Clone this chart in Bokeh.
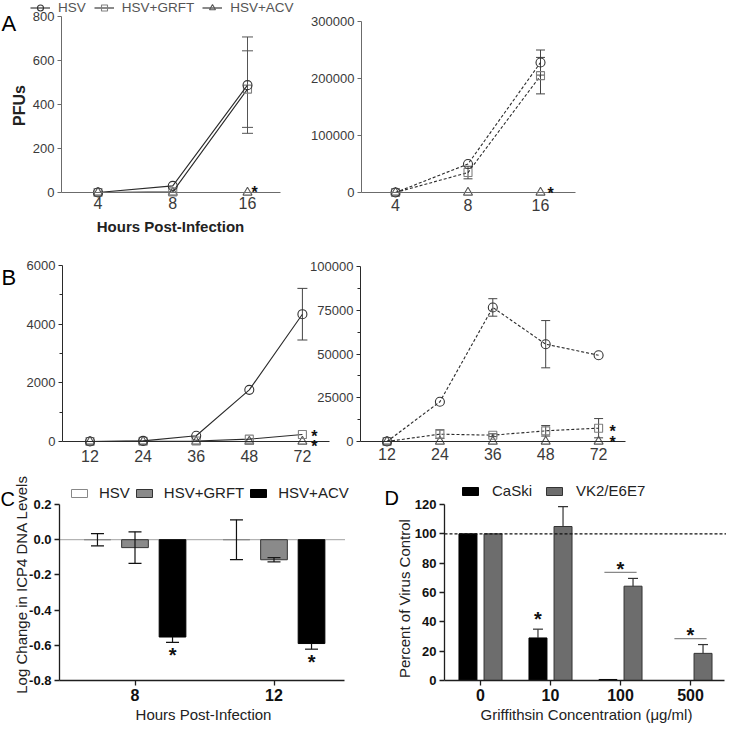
import math
from bokeh.plotting import figure
from bokeh.models import (Range1d, LinearAxis, FixedTicker, NumeralTickFormatter,
                          Label, Legend, LegendItem)
from bokeh.layouts import column, row
from bokeh.embed import file_html
from bokeh.resources import INLINE

FONT = "Liberation Sans"

# ---------------- Panel A : PFUs vs hours post-infection ----------------
a_hours = ["4", "8", "16"]
a_left_ticks = [0, 200, 400, 600, 800]
a_left_hsv = [0, 30, 488]
a_left_hsv_err = [0, 0, 219]
a_left_grft = [0, 3, 470]
a_left_grft_err = [0, 0, 174]
a_left_acv = [0, 0, 0]
a_right_ticks = [0, 100000, 200000, 300000]
a_right_hsv = [0, 50000, 228000]
a_right_hsv_err = [0, 0, 22000]
a_right_grft = [0, 35000, 205000]
a_right_grft_err = [0, 11000, 32000]
a_right_acv = [0, 0, 0]

# ---------------- Panel B ----------------
b_hours = ["12", "24", "36", "48", "72"]
b_left_ticks = [0, 2000, 4000, 6000]
b_left_minor = [1000, 3000, 5000]
b_left_hsv = [0, 20, 195, 1760, 4340]
b_left_hsv_err = [0, 0, 0, 0, 880]
b_left_grft = [0, 10, 15, 80, 240]
b_left_acv = [0, 0, 0, 0, 0]
b_right_ticks = [0, 25000, 50000, 75000, 100000]
b_right_minor = [12500, 37500, 62500, 87500]
b_right_hsv = [0, 22700, 76600, 55600, 49300]
b_right_hsv_err = [0, 0, 5000, 13500, 0]
b_right_grft = [0, 4200, 3600, 6100, 7600]
b_right_grft_err = [0, 2500, 800, 3000, 5500]
b_right_acv = [0, 0, 0, 0, 0]

# ---------------- Panel C : ICP4 DNA ----------------
c_hours = ["8", "12"]
c_series = ["HSV", "HSV+GRFT", "HSV+ACV"]
c_ticks = [-0.8, -0.6, -0.4, -0.2, 0.0, 0.2]
c_hsv = [0.0, 0.0]
c_hsv_err = [0.035, 0.113]
c_grft = [-0.045, -0.114]
c_grft_err = [0.09, 0.012]
c_acv = [-0.553, -0.59]
c_acv_err = [0.03, 0.032]

# ---------------- Panel D : Griffithsin ----------------
d_conc = ["0", "10", "100", "500"]
d_series = ["CaSki", "VK2/E6E7"]
d_ticks = [0, 20, 40, 60, 80, 100, 120]
d_caski = [100, 29, 0.7, 0]
d_caski_err = [0, 6, 0, 0]
d_vk2 = [100, 105, 64.3, 18.5]
d_vk2_err = [0, 13.5, 5.3, 6]
d_control = 100


class Geo:
    """A figure whose plotting frame is its whole canvas; maps reference pixels <-> data."""
    def __init__(self, origin, size):
        self.ox, self.oy = origin
        self.w, self.h = size
        self.l, self.t = self.ox, self.oy
        self.r, self.b = self.ox + self.w, self.oy + self.h

    def xr_cat(self, first, step):
        return ((self.l - first) / step, (self.r - first) / step)

    def yr_lin(self, v0, p0, v1, p1):
        k = (v1 - v0) / (p0 - p1)
        return (v0 - (self.b - p0) * k, v0 + (p0 - self.t) * k)

    def dx(self, px, xr):
        return xr[0] + (px - self.l) / (self.r - self.l) * (xr[1] - xr[0])

    def dy(self, py, yr):
        return yr[0] + (self.b - py) / (self.b - self.t) * (yr[1] - yr[0])

    def px(self, v, xr):
        return self.l + (v - xr[0]) / (xr[1] - xr[0]) * (self.r - self.l)

    def py(self, v, yr):
        return self.b - (v - yr[0]) / (yr[1] - yr[0]) * (self.b - self.t)

    def fig(self, xr, yr):
        p = figure(width=self.w, height=self.h, x_range=Range1d(*xr), y_range=Range1d(*yr),
                   x_axis_type=None, y_axis_type=None, toolbar_location=None,
                   output_backend="svg", min_border_left=0, min_border_right=0,
                   min_border_top=0, min_border_bottom=0)
        p.outline_line_color = None
        p.background_fill_color = "white"
        p.border_fill_color = "white"
        return p


def axis(ticks, color, size, tcolor, tick_out=4, standoff=3, labels=None, bold=False,
         minor=None, fmt="0", width=1, **kw):
    ax = LinearAxis(ticker=FixedTicker(ticks=ticks, minor_ticks=minor or []), **kw)
    if labels is not None:
        ax.major_label_overrides = {t: s for t, s in zip(ticks, labels)}
    else:
        ax.formatter = NumeralTickFormatter(format=fmt)
    ax.axis_line_color = color
    ax.axis_line_width = width
    ax.major_tick_line_color = color if tick_out else None
    ax.major_tick_line_width = width
    ax.minor_tick_line_color = color
    ax.major_tick_out = tick_out
    ax.major_tick_in = 0
    ax.minor_tick_out = 3
    ax.minor_tick_in = 0
    ax.major_label_standoff = standoff
    ax.major_label_text_font = FONT
    ax.major_label_text_font_size = f"{size}px"
    ax.major_label_text_color = tcolor
    ax.major_label_text_font_style = "bold" if bold else "normal"
    return ax


def label(p, g, xr, yr, X, Y, s, size, bold=False, color="#000", align="center",
          baseline="middle", angle=0.0):
    p.add_layout(Label(x=g.dx(X, xr), y=g.dy(Y, yr), text=s, text_font=FONT,
                       text_font_size=f"{size}px",
                       text_font_style="bold" if bold else "normal",
                       text_color=color, text_align=align, text_baseline=baseline,
                       angle=angle))


def star(p, g, xr, yr, X, Y, size=16):
    # Y is the wanted visual centre of the asterisk
    label(p, g, xr, yr, X, Y + 0.22 * size, "*", size, bold=True, color="#111")


def series(p, xs, ys, marker, mcolor, dash="solid", xrn="default", yrn="default", size=9):
    kw = dict(x_range_name=xrn, y_range_name=yrn)
    ln = p.line(xs, ys, line_color="#2b2b2b", line_width=1.1, line_dash=dash, **kw)
    sc = p.scatter(xs, ys, marker=marker, size=size, fill_alpha=0, line_color=mcolor,
                   line_width=1.1, **kw)
    return ln, sc


def errbars(p, xs, ys, errs, cap=10, color="#555", width=1.0, up=True, down=True,
            xrn="default", yrn="default"):
    keep = [i for i, e in enumerate(errs) if e > 0]
    if not keep:
        return
    x = [xs[i] for i in keep]
    lo = [ys[i] - errs[i] if down else ys[i] for i in keep]
    hi = [ys[i] + errs[i] if up else ys[i] for i in keep]
    kw = dict(x_range_name=xrn, y_range_name=yrn)
    p.segment(x0=x, y0=lo, x1=x, y1=hi, line_color=color, line_width=width, **kw)
    if up:
        p.scatter(x, hi, marker="dash", size=cap, line_color=color, line_width=width, **kw)
    if down:
        p.scatter(x, lo, marker="dash", size=cap, line_color=color, line_width=width, **kw)


AX_A = "#6b6b6b"
TX_A = "#3a3a3a"
XT = 16   # x tick label size for panels A and B

# ======================= Row A =======================
gA = Geo((8, 8), (726, 240))
xa1 = gA.xr_cat(105.5, 74.75)
xa2 = gA.xr_cat(403, 72.5)
ya1 = gA.yr_lin(0, 200, 800, 24)
ya2 = gA.yr_lin(0, 200, 300000, 29)
pA = gA.fig(xa1, ya1)
pA.extra_x_ranges = {"a2x": Range1d(*xa2)}
pA.extra_y_ranges = {"a2y": Range1d(*ya2)}

xa1_axis = gA.dx(69, xa1)
pA.add_layout(axis(a_left_ticks, AX_A, 13, TX_A, tick_out=4, standoff=3, bounds=(0, 800),
                   fixed_location=xa1_axis), "left")
pA.add_layout(axis([0, 1, 2], AX_A, XT, TX_A, tick_out=0, standoff=4, labels=a_hours,
                   bounds=(xa1_axis, gA.dx(288, xa1)), fixed_location=0), "below")
xa2_axis = gA.dx(369, xa2)
pA.add_layout(axis(a_right_ticks, AX_A, 13, TX_A, tick_out=4, standoff=3, bounds=(0, 300000),
                   x_range_name="a2x", y_range_name="a2y", fixed_location=xa2_axis), "left")
pA.add_layout(axis([0, 1, 2], AX_A, XT, TX_A, tick_out=0, standoff=6, labels=a_hours,
                   bounds=(xa2_axis, gA.dx(583, xa2)), x_range_name="a2x", y_range_name="a2y",
                   fixed_location=0), "below")

ix3 = [0, 1, 2]
errbars(pA, ix3, a_left_hsv, a_left_hsv_err, cap=11)
errbars(pA, ix3, a_left_grft, a_left_grft_err, cap=11)
r_acv = series(pA, ix3, a_left_acv, "triangle", "#555")
r_grft = series(pA, ix3, a_left_grft, "square", "#808080", size=8)
r_hsv = series(pA, ix3, a_left_hsv, "circle", "#333")
errbars(pA, ix3, a_right_hsv, a_right_hsv_err, cap=9, color="#444", xrn="a2x", yrn="a2y")
errbars(pA, ix3, a_right_grft, a_right_grft_err, cap=9, color="#444", xrn="a2x", yrn="a2y")
series(pA, ix3, a_right_acv, "triangle", "#555", dash="3 2", xrn="a2x", yrn="a2y")
series(pA, ix3, a_right_grft, "square", "#808080", dash="3 2", xrn="a2x", yrn="a2y", size=8)
series(pA, ix3, a_right_hsv, "circle", "#333", dash="3 2", xrn="a2x", yrn="a2y")

star(pA, gA, xa1, ya1, gA.px(2, xa1) + 7, gA.py(a_left_acv[2], ya1) - 4, 16)
star(pA, gA, xa1, ya1, gA.px(2, xa2) + 10, gA.py(a_right_acv[2], ya2) - 3, 16)

legA = Legend(items=[LegendItem(label="HSV", renderers=list(r_hsv)),
                     LegendItem(label="HSV+GRFT", renderers=list(r_grft)),
                     LegendItem(label="HSV+ACV", renderers=list(r_acv))],
              location=(30, 240 - 15), orientation="horizontal",
              label_text_font=FONT, label_text_font_size="13.5px", label_text_color="#555",
              glyph_width=20, glyph_height=15, label_height=15, label_standoff=8, spacing=8,
              padding=0, margin=0, border_line_color=None, background_fill_alpha=0)
pA.add_layout(legA)

label(pA, gA, xa1, ya1, 9, 31, "A", 22, align="left", baseline="alphabetic")
label(pA, gA, xa1, ya1, 27, 113, "PFUs", 16, bold=True, color="#222", angle=math.pi / 2)
label(pA, gA, xa1, ya1, 178, 234, "Hours Post-Infection", 15, bold=True, color="#222")

# ======================= Row B =======================
AX_B = "#2a2a2a"
gB = Geo((8, 248), (726, 228))
xb1 = gB.xr_cat(97.5, 53.1)
xb2 = gB.xr_cat(394.5, 52.9)
yb1 = gB.yr_lin(0, 449, 6000, 273)
yb2 = gB.yr_lin(0, 449, 100000, 274)
pB = gB.fig(xb1, yb1)
pB.extra_x_ranges = {"b2x": Range1d(*xb2)}
pB.extra_y_ranges = {"b2y": Range1d(*yb2)}

xb1_axis = gB.dx(70, xb1)
pB.add_layout(axis(b_left_ticks, AX_B, 13, TX_A, tick_out=4, standoff=3, minor=b_left_minor,
                   bounds=(0, 6000), fixed_location=xb1_axis), "left")
pB.add_layout(axis(list(range(5)), AX_B, XT, TX_A, tick_out=0, standoff=8, labels=b_hours,
                   bounds=(xb1_axis, gB.dx(337, xb1)), fixed_location=0), "below")
xb2_axis = gB.dx(368, xb2)
pB.add_layout(axis(b_right_ticks, AX_B, 13, TX_A, tick_out=4, standoff=3, minor=b_right_minor,
                   bounds=(0, 100000), x_range_name="b2x", y_range_name="b2y",
                   fixed_location=xb2_axis), "left")
pB.add_layout(axis(list(range(5)), AX_B, XT, TX_A, tick_out=0, standoff=6, labels=b_hours,
                   bounds=(xb2_axis, gB.dx(633, xb2)), x_range_name="b2x", y_range_name="b2y",
                   fixed_location=0), "below")

ix5 = list(range(5))
errbars(pB, ix5, b_left_hsv, b_left_hsv_err, cap=10, color="#444")
series(pB, ix5, b_left_acv, "triangle", "#555")
series(pB, ix5, b_left_grft, "square", "#808080", size=8)
series(pB, ix5, b_left_hsv, "circle", "#333")
errbars(pB, ix5, b_right_hsv, b_right_hsv_err, cap=9, color="#444", xrn="b2x", yrn="b2y")
errbars(pB, ix5, b_right_grft, b_right_grft_err, cap=9, color="#444", xrn="b2x", yrn="b2y")
series(pB, ix5, b_right_acv, "triangle", "#555", dash="3 2", xrn="b2x", yrn="b2y")
series(pB, ix5, b_right_grft, "square", "#808080", dash="3 2", xrn="b2x", yrn="b2y", size=8)
series(pB, ix5, b_right_hsv, "circle", "#333", dash="3 2", xrn="b2x", yrn="b2y")

star(pB, gB, xb1, yb1, gB.px(4, xb1) + 12, gB.py(b_left_grft[4], yb1) - 1, 16)
star(pB, gB, xb1, yb1, gB.px(4, xb1) + 12, gB.py(b_left_acv[4], yb1) + 1, 16)
star(pB, gB, xb1, yb1, gB.px(4, xb2) + 14, gB.py(b_right_grft[4], yb2), 16)
star(pB, gB, xb1, yb1, gB.px(4, xb2) + 14, gB.py(b_right_acv[4], yb2) - 3, 16)

label(pB, gB, xb1, yb1, 9, 285, "B", 22, align="left", baseline="alphabetic")

# ======================= Panel C =======================
AX_C = "#1e1e1e"
gC = Geo((8, 476), (360, 255))
xc = gC.xr_cat(142.5, 139)
yc = gC.yr_lin(0.2, 512, -0.8, 688)
pC = gC.fig(xc, yc)
xc_axis = gC.dx(67, xc)
pC.add_layout(axis(c_ticks, AX_C, 13, "#111", tick_out=5, standoff=3, bold=True, fmt="0.0",
                   width=1.3, bounds=(-0.8, 0.2), fixed_location=xc_axis), "left")
pC.add_layout(axis([0, 1], AX_C, 16, "#111", tick_out=5, standoff=3, bold=True,
                   labels=c_hours, width=1.3, bounds=(xc_axis, gC.dx(352, xc)),
                   fixed_location=-0.8), "below")
pC.segment(x0=[xc_axis], y0=[0], x1=[gC.dx(352, xc)], y1=[0], line_color="#444",
           line_dash="1 1", line_width=1)

c_off = [-0.27, 0.0, 0.27]
c_w = 0.192
c_vals = [c_hsv, c_grft, c_acv]
c_errs = [c_hsv_err, c_grft_err, c_acv_err]
c_fill = ["white", "#8a8a8a", "#000000"]
c_line = ["#888888", "#333333", "#000000"]
c_rends = []
for k in range(3):
    xs = [i + c_off[k] for i in range(len(c_hours))]
    r = pC.vbar(x=xs, top=c_vals[k], bottom=0, width=c_w, fill_color=c_fill[k],
                line_color=c_line[k], line_width=1)
    c_rends.append(r)
    errbars(pC, xs, c_vals[k], c_errs[k], cap=13, color="#111", width=1.2,
            up=(k != 2), down=True)
for i in range(len(c_hours)):
    X = gC.px(i + c_off[2], xc)
    Y = gC.py(c_acv[i] - c_acv_err[i], yc) + 8
    star(pC, gC, xc, yc, X, Y, 20)

legC = Legend(items=[LegendItem(label=s, renderers=[r]) for s, r in zip(c_series, c_rends)],
              location=(77 - 8, 731 - 509), orientation="horizontal",
              label_text_font=FONT, label_text_font_size="15px", label_text_color="#222",
              glyph_width=20, glyph_height=10, label_height=10, label_standoff=10, spacing=4,
              padding=0, margin=0, border_line_color=None, background_fill_alpha=0)
pC.add_layout(legC)
label(pC, gC, xc, yc, 8, 506, "C", 20, align="left", baseline="alphabetic")
label(pC, gC, xc, yc, 29, 592, "Log Change in ICP4 DNA Levels", 15, color="#222",
      angle=math.pi / 2)
label(pC, gC, xc, yc, 211, 722, "Hours Post-Infection", 15, color="#222")

# ======================= Panel D =======================
gD = Geo((368, 476), (366, 255))
xd = gD.xr_cat(488, 70)
yd = gD.yr_lin(0, 688, 120, 512)
pD = gD.fig(xd, yd)
xd_axis = gD.dx(452, xd)
pD.add_layout(axis(d_ticks, AX_C, 13, "#111", tick_out=5, standoff=3, bold=True, width=1.3,
                   bounds=(0, 120), fixed_location=xd_axis), "left")
pD.add_layout(axis(list(range(4)), AX_C, 16, "#111", tick_out=5, standoff=3, bold=True,
                   labels=d_conc, width=1.3, bounds=(xd_axis, gD.dx(732, xd)),
                   fixed_location=0), "below")

d_off = [-0.179, 0.179]
d_w = 0.257
d_vals = [d_caski, d_vk2]
d_errs = [d_caski_err, d_vk2_err]
d_fill = ["#000000", "#6d6d6d"]
d_line = ["#000000", "#333333"]
d_rends = []
for k in range(2):
    xs = [i + d_off[k] for i in range(len(d_conc))]
    r = pD.vbar(x=xs, top=d_vals[k], bottom=0, width=d_w, fill_color=d_fill[k],
                line_color=d_line[k], line_width=1)
    d_rends.append(r)
    errbars(pD, xs, d_vals[k], d_errs[k], cap=10, color="#333", width=1.2, up=True, down=False)
pD.segment(x0=[xd_axis], y0=[d_control], x1=[gD.dx(734, xd)], y1=[d_control],
           line_color="#111", line_dash="3 2", line_width=1.2)

# significance: CaSki at 10, VK2/E6E7 at 100 and 500
X = gD.px(1 + d_off[0], xd)
star(pD, gD, xd, yd, X, gD.py(d_caski[1] + d_caski_err[1], yd) - 15, 20)
for i in (2, 3):
    top_px = gD.py(d_vk2[i] + d_vk2_err[i], yd) - 6
    yline = gD.dy(top_px, yd)
    pD.segment(x0=[i - 0.23], y0=[yline], x1=[i + 0.23], y1=[yline],
               line_color="#888", line_width=1.2)
    star(pD, gD, xd, yd, gD.px(i, xd), top_px - 8, 20)

legD = Legend(items=[LegendItem(label=s, renderers=[r]) for s, r in zip(d_series, d_rends)],
              location=(468 - 368, 731 - 507), orientation="horizontal",
              label_text_font=FONT, label_text_font_size="15px", label_text_color="#222",
              glyph_width=20, glyph_height=10, label_height=10, label_standoff=12, spacing=12,
              padding=0, margin=0, border_line_color=None, background_fill_alpha=0)
pD.add_layout(legD)
label(pD, gD, xd, yd, 392, 505, "D", 20, align="left", baseline="alphabetic")
label(pD, gD, xd, yd, 412, 604, "Percent  of Virus Control", 15, color="#222",
      angle=math.pi / 2)
label(pD, gD, xd, yd, 594, 722, "Griffithsin Concentration (\u03bcg/ml)", 15, color="#222")

layout = column(pA, pB, row(pC, pD))
open("out.html", "w").write(file_html(layout, INLINE))
